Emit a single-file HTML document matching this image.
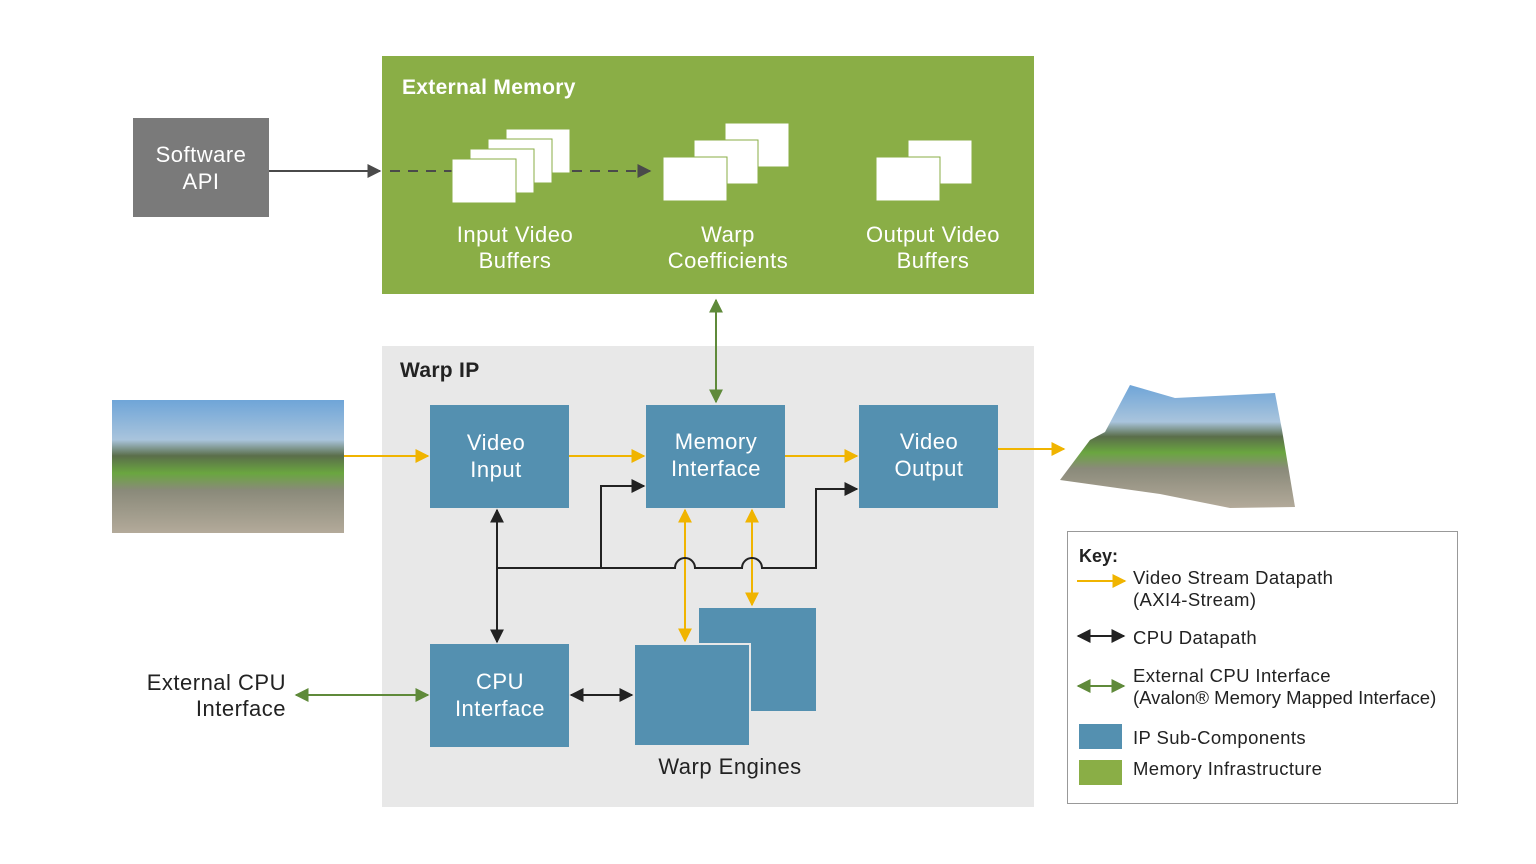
<!DOCTYPE html>
<html><head><meta charset="utf-8"><style>
html,body{margin:0;padding:0;background:#fff}
svg{display:block}
text{font-family:"Liberation Sans",sans-serif}
</style></head><body>
<svg width="1536" height="864" viewBox="0 0 1536 864" xmlns="http://www.w3.org/2000/svg">
<defs>
<marker id="ak2" viewBox="0 0 10 10" refX="9" refY="5" markerWidth="14" markerHeight="14" orient="auto-start-reverse" markerUnits="userSpaceOnUse"><path d="M0,0L10,5L0,10z" fill="#222"/></marker>
<marker id="ag" viewBox="0 0 10 10" refX="9" refY="5" markerWidth="14" markerHeight="14" orient="auto-start-reverse" markerUnits="userSpaceOnUse"><path d="M0,0L10,5L0,10z" fill="#5f8a3a"/></marker>
<marker id="ay" viewBox="0 0 10 10" refX="9" refY="5" markerWidth="14" markerHeight="14" orient="auto-start-reverse" markerUnits="userSpaceOnUse"><path d="M0,0L10,5L0,10z" fill="#f0b400"/></marker>
<marker id="ad" viewBox="0 0 10 10" refX="9" refY="5" markerWidth="14" markerHeight="14" orient="auto" markerUnits="userSpaceOnUse"><path d="M0,0L10,5L0,10z" fill="#4a4a4a"/></marker>
<linearGradient id="ph" x1="0" y1="0" x2="0" y2="1">
<stop offset="0" stop-color="#6fa5d8"/><stop offset="0.3" stop-color="#a9c4dc"/><stop offset="0.42" stop-color="#5a6e4a"/><stop offset="0.55" stop-color="#6aa640"/><stop offset="0.68" stop-color="#8a8a7a"/><stop offset="1" stop-color="#b3aa9a"/></linearGradient>
</defs>

<!-- Software API -->
<rect x="133" y="118" width="136" height="99" fill="#7a7a7a"/>
<g font-size="22" fill="#fff" text-anchor="middle" letter-spacing="0.5">
<text x="201" y="162">Software</text>
<text x="201" y="189">API</text>
</g>

<!-- External Memory -->
<rect x="382" y="56" width="652" height="238" fill="#8aae46"/>
<text x="402" y="94" font-size="21" font-weight="bold" fill="#fff" letter-spacing="0.3">External Memory</text>
<line x1="269" y1="171" x2="380" y2="171" stroke="#4a4a4a" stroke-width="2" marker-end="url(#ad)"/>
<line x1="390" y1="171" x2="452" y2="171" stroke="#4a4a4a" stroke-width="2" stroke-dasharray="10,8"/>
<line x1="572" y1="171" x2="650" y2="171" stroke="#4a4a4a" stroke-width="2" stroke-dasharray="10,8" marker-end="url(#ad)"/>
<g fill="#fff" stroke="#8aae46" stroke-width="1">
<rect x="506" y="129" width="64" height="44"/>
<rect x="488" y="139" width="64" height="44"/>
<rect x="470" y="149" width="64" height="44"/>
<rect x="452" y="159" width="64" height="44"/>
<rect x="725" y="123" width="64" height="44"/>
<rect x="694" y="140" width="64" height="44"/>
<rect x="663" y="157" width="64" height="44"/>
<rect x="908" y="140" width="64" height="44"/>
<rect x="876" y="157" width="64" height="44"/>
</g>
<g font-size="22" fill="#fff" text-anchor="middle" letter-spacing="0.5">
<text x="515" y="242">Input Video</text><text x="515" y="268">Buffers</text>
<text x="728" y="242">Warp</text><text x="728" y="268">Coefficients</text>
<text x="933" y="242">Output Video</text><text x="933" y="268">Buffers</text>
</g>

<!-- Warp IP -->
<rect x="382" y="346" width="652" height="461" fill="#e8e8e8"/>
<text x="400" y="377" font-size="21" font-weight="bold" fill="#222" letter-spacing="0.3">Warp IP</text>
<line x1="716" y1="300" x2="716" y2="402" stroke="#5f8a3a" stroke-width="2" marker-start="url(#ag)" marker-end="url(#ag)"/>

<!-- photos -->
<rect x="112" y="400" width="232" height="133" fill="url(#ph)"/>
<polygon points="1130,385 1175,398 1275,393 1282,430 1295,507 1230,508 1160,494 1060,480 1090,440 1105,432" fill="url(#ph)"/>

<!-- blue boxes -->
<g fill="#5490b0">
<rect x="430" y="405" width="139" height="103"/>
<rect x="646" y="405" width="139" height="103"/>
<rect x="859" y="405" width="139" height="103"/>
<rect x="430" y="644" width="139" height="103"/>
<rect x="699" y="608" width="117" height="103"/>
<rect x="634" y="644" width="116" height="102" stroke="#e8e8e8" stroke-width="2"/>
</g>
<g font-size="22" fill="#fff" text-anchor="middle" letter-spacing="0.5">
<text x="496" y="450">Video</text><text x="496" y="477">Input</text>
<text x="716" y="449">Memory</text><text x="716" y="476">Interface</text>
<text x="929" y="449">Video</text><text x="929" y="476">Output</text>
<text x="500" y="689">CPU</text><text x="500" y="716">Interface</text>
</g>
<text x="730" y="774" font-size="22" fill="#222" text-anchor="middle" letter-spacing="0.5">Warp Engines</text>

<!-- yellow flows -->
<g stroke="#f0b400" stroke-width="2" fill="none">
<line x1="344" y1="456" x2="428" y2="456" marker-end="url(#ay)"/>
<line x1="569" y1="456" x2="644" y2="456" marker-end="url(#ay)"/>
<line x1="785" y1="456" x2="857" y2="456" marker-end="url(#ay)"/>
<line x1="998" y1="449" x2="1064" y2="449" marker-end="url(#ay)"/>
<line x1="685" y1="510" x2="685" y2="641" marker-start="url(#ay)" marker-end="url(#ay)"/>
<line x1="752" y1="510" x2="752" y2="605" marker-start="url(#ay)" marker-end="url(#ay)"/>
</g>
<!-- CPU bus -->
<g stroke="#222" stroke-width="2" fill="none">
<path d="M497,568 H675 A10,10 0 0 1 695,568 H742 A10,10 0 0 1 762,568 H816 V489 H857" marker-end="url(#ak2)"/>
<path d="M601,568 V486 H644" marker-end="url(#ak2)"/>
<line x1="497" y1="510" x2="497" y2="642" marker-start="url(#ak2)" marker-end="url(#ak2)"/>
<line x1="571" y1="695" x2="632" y2="695" marker-start="url(#ak2)" marker-end="url(#ak2)"/>
</g>
<!-- External CPU -->
<g font-size="22" fill="#222" text-anchor="end" letter-spacing="0.5">
<text x="286" y="690">External CPU</text>
<text x="286" y="716">Interface</text>
</g>
<line x1="296" y1="695" x2="428" y2="695" stroke="#5f8a3a" stroke-width="2" marker-start="url(#ag)" marker-end="url(#ag)"/>

<!-- Key -->
<rect x="1067.5" y="531.5" width="390" height="272" fill="#fff" stroke="#999" stroke-width="1"/>
<text x="1079" y="562" font-size="18" font-weight="bold" fill="#222">Key:</text>
<line x1="1077" y1="581" x2="1125" y2="581" stroke="#f0b400" stroke-width="2" marker-end="url(#ay)"/>
<line x1="1078" y1="636" x2="1124" y2="636" stroke="#222" stroke-width="2" marker-start="url(#ak2)" marker-end="url(#ak2)"/>
<line x1="1078" y1="686" x2="1124" y2="686" stroke="#5f8a3a" stroke-width="2" marker-start="url(#ag)" marker-end="url(#ag)"/>
<rect x="1079" y="724" width="43" height="25" fill="#5490b0"/>
<rect x="1079" y="760" width="43" height="25" fill="#8aae46"/>
<g font-size="18.5" fill="#222" letter-spacing="0.4">
<text x="1133" y="584">Video Stream Datapath</text>
<text x="1133" y="606">(AXI4-Stream)</text>
<text x="1133" y="644">CPU Datapath</text>
<text x="1133" y="682">External CPU Interface</text>
<text x="1133" y="704" letter-spacing="0">(Avalon® Memory Mapped Interface)</text>
<text x="1133" y="744">IP Sub-Components</text>
<text x="1133" y="775">Memory Infrastructure</text>
</g>
</svg>
</body></html>
